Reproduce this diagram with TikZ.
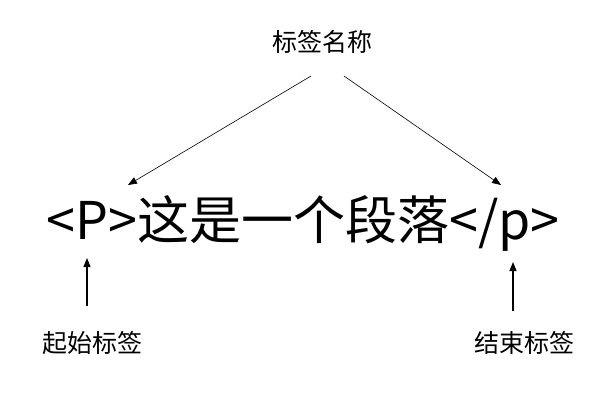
\documentclass[tikz,border=0pt]{standalone}
\usepackage{fontspec}
\setmainfont{Noto Sans CJK SC}
\usetikzlibrary{arrows.meta}
\begin{document}
\begin{tikzpicture}[x=1pt,y=-1pt,
  lbl/.style={inner sep=0pt, font=\fontsize{25}{30}\selectfont},
  thin arrow/.style={line width=0.6pt, -{Triangle[length=9pt,width=7pt]}},
  up arrow/.style={line width=1.2pt, -{Triangle[length=9pt,width=7pt]}}]
\useasboundingbox (0,0) rectangle (609,405);
\node[lbl] (name) at (322,42) {标签名称};
\node[inner sep=0pt, font=\fontsize{52}{62}\selectfont] (main) at (303,223) {<P>这是一个段落</p>};
\node[lbl] (start) at (92,343) {起始标签};
\node[lbl] (end) at (524,343) {结束标签};
\coordinate (n1) at (311,76);
\coordinate (n2) at (344,76);
\coordinate (t1) at (128,185);
\coordinate (t2) at (501,185);
\coordinate (s0) at (87,306);
\coordinate (s1) at (87,258);
\coordinate (e0) at (513,311);
\coordinate (e1) at (513,262);
\draw[thin arrow] (n1) -- (t1);
\draw[thin arrow] (n2) -- (t2);
\draw[up arrow] (s0) -- (s1);
\draw[up arrow] (e0) -- (e1);
\end{tikzpicture}
\end{document}
